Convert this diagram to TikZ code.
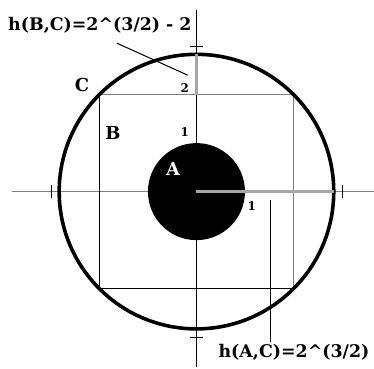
\documentclass[tikz,border=0pt]{standalone}
\usepackage{fontspec}
\setmainfont{DejaVu Serif}
\usepackage{tikz}
\usetikzlibrary{positioning, calc}

\begin{document}
\begin{tikzpicture}[
    axis/.style={gray, line width=0.6pt},
    tick/.style={line width=0.5pt},
    edge/.style={line width=0.5pt},
    greyedge/.style={gray, line width=0.6pt},
    hseg/.style={gray!70, line width=1.6pt},
    lead/.style={line width=0.6pt},
    big/.style={font=\fontsize{10.5}{12}\selectfont\bfseries, inner sep=1pt},
    num/.style={font=\fontsize{7}{8}\selectfont\bfseries, inner sep=1pt},
    hlab/.style={font=\fontsize{10.2}{12}\selectfont\bfseries, inner sep=1pt}
]
    \useasboundingbox (-4.05, -3.64) rectangle (3.66, 3.95);

    % Points
    \coordinate (o) at (0, 0);
    \coordinate (sqtop) at (0, 2);
    \coordinate (ctop) at (0, 2.83);
    \coordinate (cright) at (2.83, 0);

    % Axes
    \draw[axis] (-3.8, 0) -- (3.66, 0);
    \draw[edge] (0, -3.62) -- (0, 3.74);
    \foreach \t in {-3, 3} {
        \draw[tick] (\t, -0.13) -- (\t, 0.13);
        \draw[tick] (-0.13, \t) -- (0.13, \t);
    }

    % Square B
    \draw[edge] (-2, 2) -- (-2, -2) -- (2, -2);
    \draw[greyedge] (-2, 2) -- (2, 2) -- (2, -2);

    % Circle C and disc A
    \draw[line width=2.1pt] (o) circle (2.83);
    \fill (o) circle (1);

    % Distances
    \draw[hseg] (o) -- (cright);
    \draw[hseg] (sqtop) -- (ctop);

    % Labels
    \node[big] (labC) at (-2.36, 2.19) {C};
    \node[big] (labB) at (-1.72, 1.21) {B};
    \node[big, text=white] (labA) at (-0.48, 0.46) {A};
    \node[num] (two) at (-0.24, 2.13) {2};
    \node[num] (oneup) at (-0.24, 1.23) {1};
    \node[num] (oneright) at (1.14, -0.30) {1};

    \node[hlab] (hbc) at (-1.99, 3.43) {h(B,C)=2\^{}(3/2) - 2};
    \node[hlab] (hac) at (2.01, -3.31) {h(A,C)=2\^{}(3/2)};

    % Leaders
    \coordinate (bcend) at (-0.18, 2.40);
    \coordinate (bcstart) at (-1.64, 3.06);
    \draw[lead] (bcstart) -- (bcend);
    \coordinate (actop) at (1.52, -0.18);
    \draw[lead] (actop) -- (actop |- hac.north);
\end{tikzpicture}
\end{document}
